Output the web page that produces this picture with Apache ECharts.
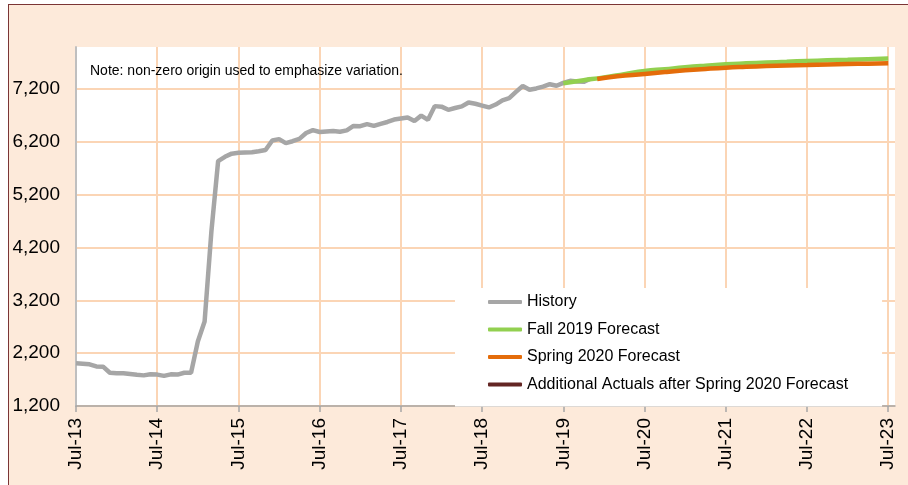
<!DOCTYPE html>
<html>
<head>
<meta charset="utf-8">
<script src="https://cdn.jsdelivr.net/npm/echarts@6/dist/echarts.min.js"></script>
<style>
  html, body { margin: 0; padding: 0; background: #fff; overflow: hidden; }
  #frame {
    position: absolute; left: 8px; top: 4px; width: 1000px; height: 1000px;
    border: 1px solid #7b3535; background: #fdeada;
  }
  #main { position: absolute; left: 0; top: 0; width: 908px; height: 485px; }
</style>
</head>
<body>
<div id="frame"></div>
<div id="main"></div>
<script>
// monthly axis Jul-13 .. Aug-23
const monNames = ['Jan','Feb','Mar','Apr','May','Jun','Jul','Aug','Sep','Oct','Nov','Dec']
const months = []
for (let i = 0; i < 122; i++) {
    const m = (6 + i) % 12
    const y = 13 + Math.floor((6 + i) / 12)
    months.push(monNames[m] + '-' + y)
}

// History, monthly from Jul-13
const history = [
    2010, 2000, 1990, 1950, 1945, 1830, 1820, 1820, 1805, 1790, 1780, 1800,
    1795, 1770, 1800, 1795, 1830, 1830, 2420, 2800, 4500, 5840, 5920, 5980,
    5995, 6000, 6005, 6025, 6050, 6230, 6255, 6180, 6215, 6260, 6370, 6425,
    6390, 6400, 6410, 6395, 6420, 6505, 6500, 6540, 6505, 6545, 6580, 6625,
    6645, 6665, 6600, 6700, 6620, 6880, 6870, 6810, 6845, 6875, 6950, 6925,
    6890, 6855, 6910, 6990, 7030, 7150, 7260, 7190, 7215, 7250, 7295, 7265,
    7320, 7360, 7345, 7340, 7400
]

// Fall 2019 forecast (quarterly points)
const fallMonths = ['Jul-19','Oct-19','Jan-20','Apr-20','Jul-20','Oct-20','Jan-21','Apr-21','Jul-21',
    'Oct-21','Jan-22','Apr-22','Jul-22','Oct-22','Jan-23','Apr-23','Jul-23']
const fallValues = [7315, 7370, 7425, 7485, 7545, 7580, 7615, 7645, 7672,
    7690, 7705, 7720, 7735, 7747, 7758, 7770, 7780]

// Spring 2020 forecast
const springMonths = ['Dec-19','Mar-20','Jul-20','Oct-20','Jan-21','Apr-21','Jul-21',
    'Oct-21','Jan-22','Apr-22','Jul-22','Oct-22','Jan-23','Apr-23','Jul-23']
const springValues = [7395, 7445, 7488, 7525, 7558, 7585, 7608,
    7624, 7638, 7650, 7659, 7668, 7677, 7684, 7690]

// Additional actuals after Spring 2020 forecast (none shown)
const extraMonths = []
const extraValues = []

const yTicks = [1200, 2200, 3200, 4200, 5200, 6200, 7200]

const pairs = (ms, vs) => ms.map((m, i) => [m, vs[i]])
const font = "'Liberation Sans', Arial, sans-serif"
const grid = '#fbd5b5'

const chart = echarts.init(document.getElementById('main'))
chart.setOption({
    backgroundColor: 'transparent',
    animation: false,
    grid: {
        left: 76, top: 47, right: 13, bottom: 79,
        show: true, backgroundColor: '#fff', borderWidth: 0,
        outerBoundsMode: 'none'
    },
    graphic: [{
        type: 'text', left: 90, top: 64, z: 10,
        style: {
            text: 'Note: non-zero origin used to emphasize variation.',
            font: '14px ' + font, fill: '#000'
        }
    }],
    legend: {
        orient: 'vertical', left: 455, top: 288,
        padding: [6, 34, 14, 33],
        itemGap: 11.5, itemWidth: 34, itemHeight: 4,
        icon: 'roundRect',
        backgroundColor: '#fff',
        textStyle: { fontFamily: font, fontSize: 16, color: '#000' },
        data: ['History', 'Fall 2019 Forecast', 'Spring 2020 Forecast',
            'Additional Actuals after Spring 2020 Forecast']
    },
    xAxis: {
        type: 'category', data: months, boundaryGap: false,
        axisLine: { lineStyle: { color: '#a6a6a6', width: 1.5 } },
        axisTick: { interval: 11, length: 6, lineStyle: { color: '#a6a6a6', width: 1.5 } },
        axisLabel: {
            interval: 11, rotate: 90, margin: 12,
            fontFamily: font, fontSize: 19, color: '#000'
        },
        splitLine: { show: true, interval: 11, lineStyle: { color: grid, width: 2 } }
    },
    yAxis: {
        type: 'value', min: 1200, max: 8000,
        axisLine: { show: true, lineStyle: { color: '#bfbfbf', width: 2 } },
        axisTick: { show: false, customValues: yTicks },
        axisLabel: {
            margin: 16, fontFamily: font, fontSize: 19, color: '#000',
            customValues: yTicks,
            formatter: v => v.toLocaleString('en-US')
        },
        splitLine: { lineStyle: { color: grid, width: 2 } }
    },
    series: [
        {
            name: 'History', type: 'line', data: history, showSymbol: false,
            color: '#a6a6a6', lineStyle: { width: 4.5, color: '#a6a6a6' }, z: 2
        },
        {
            name: 'Fall 2019 Forecast', type: 'line', data: pairs(fallMonths, fallValues),
            showSymbol: false, smooth: true,
            color: '#92d050', lineStyle: { width: 4.5, color: '#92d050' }, z: 3
        },
        {
            name: 'Spring 2020 Forecast', type: 'line', data: pairs(springMonths, springValues),
            showSymbol: false, smooth: true,
            color: '#e46c0a', lineStyle: { width: 4.5, color: '#e46c0a' }, z: 4
        },
        {
            name: 'Additional Actuals after Spring 2020 Forecast', type: 'line',
            data: pairs(extraMonths, extraValues), showSymbol: false,
            color: '#632523', lineStyle: { width: 4.5, color: '#632523' }, z: 5
        }
    ]
})
</script>
</body>
</html>
